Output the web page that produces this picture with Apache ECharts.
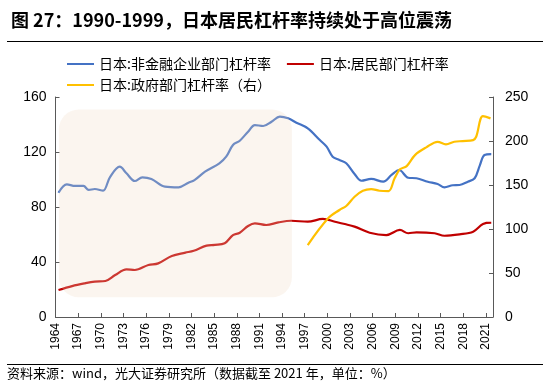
<!DOCTYPE html>
<html><head><meta charset="utf-8">
<script src="https://cdn.jsdelivr.net/npm/echarts@6/dist/echarts.min.js"></script>
<style>html,body{margin:0;padding:0;background:#fff}#c{width:550px;height:384px}</style>
</head><body><div id="c"></div>
<script>
var titleText = '图 27：1990-1999，日本居民杠杆率持续处于高位震荡';
var footText = '资料来源：wind，光大证券研究所（数据截至 2021 年，单位：%）';
var names = ['日本:非金融企业部门杠杆率', '日本:居民部门杠杆率', '日本:政府部门杠杆率（右）'];
var startYear = 1964;
var xTickLabels = [1964,1967,1970,1973,1976,1979,1982,1985,1988,1991,1994,1997,2000,2003,2006,2009,2012,2015,2018,2021];
var leftTicks = [0,40,80,120,160];
var rightTicks = [0,50,100,150,200,250];

var corpYears = [1964.4,1965.5,1966.6,1967.7,1968.4,1969.2,1970.3,1971.2,1972.5,1973.4,1974.5,1975.5,1976.7,1978.5,1980.3,1981.6,1982.4,1983.8,1985.7,1986.6,1987.5,1988.4,1989.5,1990.4,1991.5,1992.6,1993.7,1994.8,1995.9,1997.4,1999.0,1999.9,2000.7,2001.6,2002.5,2003.6,2004.5,2005.8,2007.4,2008.5,2009.5,2010.7,2011.8,2013.3,2014.6,2015.5,2016.6,2017.5,2018.6,2019.5,2020.2,2020.8,2021.7];
var corpVals  = [90.4,96.5,95.3,95.3,92.4,93.1,91.9,101.6,109.3,104.5,98.9,101.6,100.4,94.8,94.3,97.7,99.6,105.7,111.8,116.6,125.1,128.2,134.8,139.6,138.9,142,145.7,144.5,141.3,137.2,128.7,123.9,116.6,114.2,111.8,104,99.1,100.4,98.4,103.3,106.9,101.3,100.9,98.4,96.7,94.3,95.8,96,98.4,100.9,110.5,117.8,118.5];

var hhYears = [1964.4,1966.2,1967.9,1969.2,1970.6,1971.9,1973.4,1974.5,1976.3,1977.6,1979.4,1981.2,1982.3,1984.0,1985.1,1986.4,1987.5,1988.4,1989.5,1990.4,1991.9,1993.5,1995.2,1997.4,1999.4,2001.0,2002.3,2003.6,2005.6,2007.8,2009.6,2010.7,2011.8,2014.2,2015.5,2017.5,2019.3,2020.6,2021.7];
var hhVals  = [19.6,22.5,24.5,25.7,26.2,30.5,34.7,34.2,37.8,39,44.4,46.8,48.2,51.9,52.4,53.6,59.6,61.3,66.2,68.1,66.9,68.8,70,69.3,71.3,69.3,67.6,65.7,61.3,59.6,63.3,60.9,61.6,60.9,59.1,60.1,62,67.6,68.6];

var govYears = [1997.4,2000.1,2001.6,2002.5,2003.6,2004.7,2005.8,2006.9,2008.1,2008.9,2009.6,2010.5,2011.6,2013.1,2014.6,2015.7,2016.8,2017.9,2019.3,2019.7,2020.6,2021.6];
var govVals  = [81.8,112.1,121.6,126.1,136.7,143.5,145.4,143.5,143.1,157.6,167.8,171.5,184,192.8,199.1,196.2,199.1,199.9,201,204.8,228.3,225.7];

var shadeX = [1964.45, 1995.3];
var shadeY = [14.3, 151];

function pairs(ys, vs){ return ys.map(function(y,i){ return [y - startYear, vs[i]]; }); }

var chart = echarts.init(document.getElementById('c'), null, {renderer:'canvas'});
var cjk = '"Noto Sans CJK SC", sans-serif';
var axisFont = '"Liberation Sans", Arial, sans-serif';
var axisColor = '#595959';

var option = {
  animation: false,
  backgroundColor: '#fff',
  title: {text: titleText, left: 6, top: 6, textStyle:{fontFamily: cjk, fontSize: 18, fontWeight: 'bold', color:'#000'}},
  legend: [
    {data:[names[0], names[1]], left: 62, top: 52, itemGap: 16, itemWidth: 27, itemHeight: 2, icon: 'rect',
     textStyle:{fontFamily: cjk, fontSize: 14, color:'#000'}},
    {data:[names[2]], left: 62, top: 73, itemWidth: 27, itemHeight: 2, icon: 'rect',
     textStyle:{fontFamily: cjk, fontSize: 14, color:'#000'}}
  ],
  grid: {left: 55.5, right: 57, top: 97, bottom: 67, containLabel: false},
  xAxis: {
    type: 'value', min: 0, max: 57.93, interval: 3,
    splitLine: {show: false},
    axisLine: {lineStyle: {color: axisColor}},
    axisTick: {inside: true, length: 4, lineStyle:{color: axisColor}},
    axisLabel: {rotate: 90, margin: 6, fontSize: 12, fontFamily: axisFont, color: '#000', showMaxLabel: false,
      formatter: function(v){ var y = Math.round(v) + startYear; return (Math.abs(v - Math.round(v)) < 1e-6 && xTickLabels.indexOf(y) >= 0) ? String(y) : ''; }}
  },
  yAxis: [
    {type:'value', min: leftTicks[0], max: leftTicks[leftTicks.length-1], interval: 40, position:'left',
     splitLine:{show:false}, axisLine:{show:true, lineStyle:{color: axisColor}},
     axisTick:{show:true, inside:true, length:4, lineStyle:{color: axisColor}},
     axisLabel:{fontSize: 14, fontFamily: axisFont, color:'#000', margin: 9}},
    {type:'value', min: rightTicks[0], max: rightTicks[rightTicks.length-1], interval: 50, position:'right',
     splitLine:{show:false}, axisLine:{show:true, lineStyle:{color: axisColor}},
     axisTick:{show:true, inside:true, length:4, lineStyle:{color: axisColor}},
     axisLabel:{fontSize: 14, fontFamily: axisFont, color:'#000', margin: 12}}
  ],
  series: [
    {name: names[0], type:'line', yAxisIndex:0, data: pairs(corpYears, corpVals), smooth: 0.35, symbol:'none',
     lineStyle:{width: 2.2, color:'#4472C4'}, itemStyle:{color:'#4472C4'}},
    {name: names[1], type:'line', yAxisIndex:0, data: pairs(hhYears, hhVals), smooth: 0.35, symbol:'none',
     lineStyle:{width: 2.2, color:'#C00000'}, itemStyle:{color:'#C00000'}},
    {name: names[2], type:'line', yAxisIndex:1, data: pairs(govYears, govVals), smooth: 0.35, symbol:'none',
     lineStyle:{width: 2.2, color:'#FFC000'}, itemStyle:{color:'#FFC000'}}
  ]
};
chart.setOption(option);

var p1 = chart.convertToPixel({gridIndex:0}, [shadeX[0]-startYear, shadeY[1]]);
var p2 = chart.convertToPixel({gridIndex:0}, [shadeX[1]-startYear, shadeY[0]]);
chart.setOption({
  graphic: [
    {type:'rect', z: 100, shape:{x:p1[0], y:p1[1], width:p2[0]-p1[0], height:p2[1]-p1[1], r: 20},
     style:{fill:'rgba(238,218,194,0.26)'}, silent:true},
    {type:'line', z: 100, shape:{x1:7, y1:41.5, x2:543, y2:41.5}, style:{stroke:'#000', lineWidth:1}},
    {type:'line', z: 100, shape:{x1:7, y1:364.5, x2:543, y2:364.5}, style:{stroke:'#000', lineWidth:1}},
    {type:'text', z: 100, left: 7, top: 367, style:{text: footText, font: '13px "Noto Sans CJK SC"', fill:'#000'}}
  ]
});
</script></body></html>
